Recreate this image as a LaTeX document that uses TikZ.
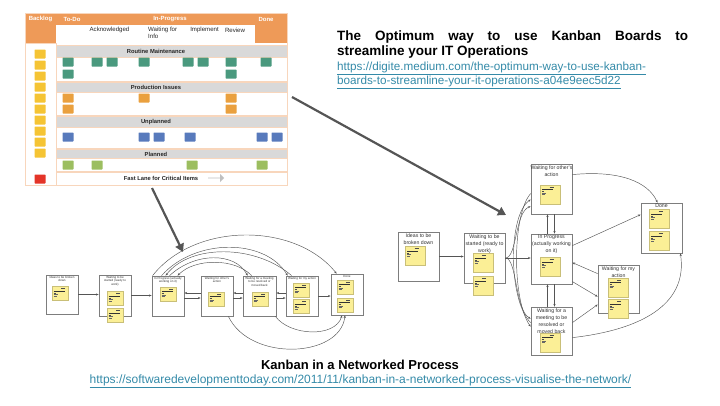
\documentclass[tikz,border=0pt]{standalone}
\usepackage{fontspec}
\setmainfont{Liberation Sans}
\usepackage{tikz}
\usepackage{xcolor}
\usetikzlibrary{positioning,arrows.meta,shapes.arrows}

\definecolor{boardorange}{RGB}{238,154,88}
\definecolor{boardline}{RGB}{248,214,188}
\definecolor{lanegray}{RGB}{217,217,217}
\definecolor{cardyellow}{RGB}{245,196,52}
\definecolor{cardgreen}{RGB}{74,153,126}
\definecolor{cardorange}{RGB}{234,160,62}
\definecolor{cardblue}{RGB}{88,122,188}
\definecolor{cardlime}{RGB}{156,190,96}
\definecolor{cardred}{RGB}{228,52,40}
\definecolor{linkblue}{RGB}{52,138,168}
\definecolor{boxgray}{RGB}{125,125,125}
\definecolor{notefill}{RGB}{251,239,150}
\definecolor{arrowgray}{RGB}{85,85,85}

\tikzset{
    board-cell/.style = {draw=boardline, fill=white, line width=0.5pt},
    lane-band/.style = {draw=boardline, fill=lanegray, line width=0.5pt},
    head-text/.style = {text=white, font=\bfseries\fontsize{6}{7}\selectfont, inner sep=0pt},
    sub-text/.style = {font=\fontsize{6.1}{7}\selectfont, inner sep=0pt, align=left, text=black!85},
    lane-text/.style = {font=\bfseries\fontsize{5.8}{7}\selectfont, inner sep=0pt, text=black!85},
    card/.style = {minimum width=11pt, minimum height=9pt, inner sep=0pt, rounded corners=0.6pt},
    flow-box/.style = {draw=boxgray, fill=white, line width=0.8pt, inner sep=0pt},
    flow-label/.style = {font=\fontsize{5.2}{7}\selectfont, align=center, inner sep=0pt, text=black!80},
    small-label/.style = {font=\fontsize{3}{3.6}\selectfont, align=center, inner sep=0pt, text=black!80},
    sticky/.style = {fill=notefill, draw=notefill!80!black, line width=0.2pt, inner sep=0pt,
        path picture={
            \draw[black!70, line width=0.2pt] ([shift={(9pt,-2pt)}]path picture bounding box.north west) -- ++(4pt,0pt);
            \draw[black!80, line width=0.6pt] ([shift={(1.5pt,-4.5pt)}]path picture bounding box.north west) -- ++(11pt,0pt);
            \draw[black!70, line width=0.3pt] ([shift={(1.5pt,-6.5pt)}]path picture bounding box.north west) -- ++(2pt,0pt);
            \draw[black!60, line width=0.2pt] ([shift={(1.5pt,-8pt)}]path picture bounding box.north west) -- ++(4pt,0pt);
            \draw[black!60, line width=0.2pt] ([shift={(1.5pt,-9.5pt)}]path picture bounding box.north west) -- ++(3pt,0pt);
        }},
    sticky-big/.style = {sticky, minimum width=20pt, minimum height=19pt},
    sticky-small/.style = {sticky, minimum width=16pt, minimum height=14pt},
    flow-arrow/.style = {-{Stealth[length=2.6pt,width=2.2pt]}, draw=arrowgray, line width=0.45pt},
    big-arrow/.style = {-{Triangle[length=8pt,width=9pt]}, draw=arrowgray, line width=2.2pt},
}

\begin{document}
\begin{tikzpicture}[x=1pt, y=-1pt]
\useasboundingbox (0,0) rectangle (720,405);

% kanban board
\fill[boardorange] (25,13) rectangle (287,25);
\fill[boardorange] (25,25) rectangle (56,43);
\fill[boardorange] (255,25) rectangle (287,43);
\draw[board-cell] (25,43) rectangle (56,185);
\draw[lane-band] (56,45) rectangle (287,57);
\draw[board-cell] (56,57) rectangle (287,81);
\draw[lane-band] (56,82) rectangle (287,92);
\draw[board-cell] (56,92) rectangle (287,115);
\draw[lane-band] (56,116) rectangle (287,127);
\draw[board-cell] (56,127) rectangle (287,148);
\draw[lane-band] (56,149) rectangle (287,158);
\draw[board-cell] (56,158) rectangle (287,171);
\draw[board-cell] (56,172) rectangle (287,185);
\draw[boardline, line width=0.6pt] (25,13) rectangle (287,185);

\node[head-text] (head-backlog) at (40.5,19) {Backlog};
\node[head-text] (head-todo) at (72,19) {To-Do};
\node[head-text] (head-progress) at (170,19) {In-Progress};
\node[head-text] (head-done) at (266,19) {Done};
\node[sub-text] (sub-ack) at (109.5,30) {Acknowledged};
\node[sub-text, anchor=north west] (sub-wait) at (148,27) {Waiting for\\Info};
\node[sub-text] (sub-impl) at (204.5,30) {Implement};
\node[sub-text] (sub-review) at (235,30) {Review};

\node[lane-text] (lane-routine) at (156,51) {Routine Maintenance};
\node[lane-text] (lane-prod) at (156,87) {Production Issues};
\node[lane-text] (lane-unplanned) at (156,122) {Unplanned};
\node[lane-text] (lane-planned) at (156,154) {Planned};
\node[lane-text] (lane-fast) at (161,178) {Fast Lane for Critical Items};
\node[single arrow, fill=black!25, minimum height=16pt, minimum width=8pt,
      single arrow head extend=1.5pt, inner sep=0pt] (fast-arrow) at (216,178) {};

% cards
\foreach \y [count=\i] in {54,65,...,153}
    \node[card, fill=cardyellow] (backlog-\i) at (40,\y) {};
\node[card, fill=cardred] (critical-1) at (40,179) {};
\foreach \x [count=\i] in {68,97,112,144,188,203,231,266}
    \node[card, fill=cardgreen] (routine-a\i) at (\x,62) {};
\foreach \x [count=\i] in {68,231}
    \node[card, fill=cardgreen] (routine-b\i) at (\x,74) {};
\foreach \x [count=\i] in {68,144,231}
    \node[card, fill=cardorange] (prod-a\i) at (\x,98) {};
\foreach \x [count=\i] in {68,231}
    \node[card, fill=cardorange] (prod-b\i) at (\x,109) {};
\foreach \x [count=\i] in {68,144,159,190,262,277}
    \node[card, fill=cardblue] (unplanned-\i) at (\x,137) {};
\foreach \x [count=\i] in {68,97,192,262}
    \node[card, fill=cardlime] (planned-\i) at (\x,165) {};

% titles
\node[anchor=north west, text width=351pt, align=justify, inner sep=0pt,
      font=\bfseries\fontsize{13.5}{14.5}\selectfont] (board-title) at (337,31)
    {The Optimum way to use Kanban Boards to\linebreak streamline your IT Operations};
\node[anchor=north west, align=left, inner sep=0pt, text=linkblue,
      font=\fontsize{11.7}{13.5}\selectfont] (board-url) at (337,62)
    {\underline{https://digite.medium.com/the-optimum-way-to-use-kanban-}\\
     \underline{boards-to-streamline-your-it-operations-a04e9eec5d22}};
\node[anchor=base, inner sep=0pt, font=\bfseries\fontsize{13}{15}\selectfont] (net-title) at (360,369)
    {Kanban in a Networked Process};
\node[anchor=base, inner sep=0pt, text=linkblue, font=\fontsize{12}{13}\selectfont] (net-url) at (360.5,383)
    {\underline{https://softwaredevelopmenttoday.com/2011/11/kanban-in-a-networked-process-visualise-the-network/}};

% line process
\node[flow-box, minimum width=32pt, minimum height=39pt] (l-ideas) at (62,294.5) {};
\node[flow-box, minimum width=32pt, minimum height=41pt] (l-ready) at (115,295.5) {};
\node[flow-box, minimum width=32pt, minimum height=40pt] (l-progress) at (168,296) {};
\node[flow-box, minimum width=32pt, minimum height=40pt] (l-other) at (217,296) {};
\node[flow-box, minimum width=33pt, minimum height=40pt] (l-meeting) at (259.5,296) {};
\node[flow-box, minimum width=32pt, minimum height=40pt] (l-myaction) at (302,296) {};
\node[flow-box, minimum width=32pt, minimum height=41pt] (l-done) at (347,294.5) {};

\node[small-label, below=1.2pt of l-ideas.north] (l-ideas-text) {Ideas to be broken\\down};
\node[small-label, below=1.2pt of l-ready.north] (l-ready-text) {Waiting to be\\started (ready to\\work)};
\node[small-label, below=1.2pt of l-progress.north] (l-progress-text) {In Progress (actually\\working on it)};
\node[small-label, below=1.2pt of l-other.north] (l-other-text) {Waiting for other's\\action};
\node[small-label, below=1.2pt of l-meeting.north] (l-meeting-text) {Waiting for a meeting\\to be resolved or\\moved back};
\node[small-label, below=1.2pt of l-myaction.north] (l-myaction-text) {Waiting for my action};
\node[small-label, below=1.2pt of l-done.north] (l-done-text) {Done};

\node[sticky-small] (l-ideas-note) at (60,293.5) {};
\node[sticky-small] (l-ready-note1) at (115,298.5) {};
\node[sticky-small] (l-ready-note2) at (115,315.5) {};
\node[sticky-small] (l-progress-note) at (168,294) {};
\node[sticky-small] (l-other-note) at (216,299) {};
\node[sticky-small] (l-meeting-note) at (260,299) {};
\node[sticky-small] (l-myaction-note1) at (301,290) {};
\node[sticky-small] (l-myaction-note2) at (301,306.5) {};
\node[sticky-small] (l-done-note1) at (345,287) {};
\node[sticky-small] (l-done-note2) at (345,305) {};

\draw[flow-arrow] (l-ideas.east) -- (l-ideas.east -| l-ready.west);
\draw[flow-arrow] (l-ready.east) -- (l-ready.east -| l-progress.west);
\draw[flow-arrow] ([yshift=3pt]l-other.west) -- ([yshift=3pt]l-progress.east);
\draw[flow-arrow] ([yshift=-2pt]l-progress.east) -- ([yshift=-2pt]l-other.west);
\draw[flow-arrow] ([yshift=3pt]l-meeting.west) -- ([yshift=3pt]l-other.east);
\draw[flow-arrow] ([yshift=-2pt]l-other.east) -- ([yshift=-2pt]l-meeting.west);
\draw[flow-arrow] ([yshift=3pt]l-myaction.west) -- ([yshift=3pt]l-meeting.east);
\draw[flow-arrow] ([yshift=-2pt]l-meeting.east) -- ([yshift=-2pt]l-myaction.west);
\draw[flow-arrow] (l-myaction.east) -- (l-myaction.east -| l-done.west);
% arcs over the top
\draw[flow-arrow] ([xshift=1pt]l-progress.north west) .. controls (195,222) and (295,222) .. ([xshift=6pt]l-done.north west);
\draw[flow-arrow] ([xshift=10pt]l-progress.north west) .. controls (195,238) and (265,238) .. ([xshift=2pt]l-myaction.north west);
\draw[flow-arrow] ([xshift=6pt]l-myaction.north west) .. controls (255,244) and (190,244) .. ([xshift=14pt]l-progress.north west);
\draw[flow-arrow] ([xshift=18pt]l-progress.north west) .. controls (195,252) and (235,252) .. ([xshift=5pt]l-meeting.north west);
\draw[flow-arrow] ([xshift=9pt]l-meeting.north west) .. controls (235,258) and (195,258) .. ([xshift=26pt]l-progress.north west);
% arcs under the bottom
\draw[flow-arrow] ([xshift=-5pt]l-other.south east) .. controls (250,362) and (340,358) .. ([xshift=-2pt]l-done.south);
\draw[flow-arrow] ([xshift=-1pt]l-meeting.south east) .. controls (290,336) and (335,338) .. ([xshift=-5pt]l-done.south);

% network process
\node[flow-box, minimum width=41pt, minimum height=49pt] (r-ideas) at (418.5,256.5) {};
\node[flow-box, minimum width=41pt, minimum height=50pt] (r-ready) at (484.5,258) {};
\node[flow-box, minimum width=41pt, minimum height=50pt] (r-other) at (551.5,189) {};
\node[flow-box, minimum width=41pt, minimum height=50pt] (r-progress) at (551.5,259) {};
\node[flow-box, minimum width=41pt, minimum height=48pt] (r-meeting) at (551.5,331) {};
\node[flow-box, minimum width=41pt, minimum height=48pt] (r-myaction) at (618.5,289) {};
\node[flow-box, minimum width=41pt, minimum height=50pt] (r-done) at (661.5,228) {};

\node[flow-label, below=1.5pt of r-ideas.north] (r-ideas-text) {Ideas to be\\broken down};
\node[flow-label, below=1.5pt of r-ready.north] (r-ready-text) {Waiting to be\\started (ready to\\work)};
\node[flow-label, below=1.5pt of r-other.north] (r-other-text) {Waiting for other's\\action};
\node[flow-label, below=1.5pt of r-progress.north] (r-progress-text) {In Progress\\(actually working\\on it)};
\node[flow-label, below=1.5pt of r-meeting.north] (r-meeting-text) {Waiting for a\\meeting to be\\resolved or\\moved back};
\node[flow-label, below=1.5pt of r-myaction.north] (r-myaction-text) {Waiting for my\\action};
\node[flow-label, below=1.5pt of r-done.north] (r-done-text) {Done};

\node[sticky-big] (r-ideas-note) at (415.5,256) {};
\node[sticky-big] (r-ready-note1) at (483,263) {};
\node[sticky-big] (r-ready-note2) at (483,286) {};
\node[sticky-big] (r-other-note) at (550.5,194.5) {};
\node[sticky-big] (r-progress-note) at (550.5,267) {};
\node[sticky-big] (r-meeting-note) at (550.5,342.5) {};
\node[sticky-big] (r-myaction-note1) at (618,287.5) {};
\node[sticky-big] (r-myaction-note2) at (618,309) {};
\node[sticky-big] (r-done-note1) at (659.5,219) {};
\node[sticky-big] (r-done-note2) at (659.5,241) {};

\draw[flow-arrow] (r-ideas.east) -- (r-ideas.east -| r-ready.west);
\draw[flow-arrow] (r-ready.east) -- (r-ready.east -| r-progress.west);
\draw[flow-arrow] (r-ready.east) .. controls (517,258) and (515,212) .. ([yshift=8pt]r-other.south west);
\draw[flow-arrow] (r-ready.east) .. controls (517,258) and (515,310) .. ([yshift=-12pt]r-meeting.north west);
\draw[flow-arrow] ([yshift=-30pt]r-other.north west) .. controls (512,215) and (512,300) .. ([yshift=-20pt]r-meeting.north west);
\draw[flow-arrow] ([yshift=-16pt]r-meeting.north west) .. controls (508,300) and (508,215) .. ([yshift=-36pt]r-other.north west);
\draw[flow-arrow] ([xshift=-4pt]r-progress.north) -- ([xshift=-4pt]r-other.south);
\draw[flow-arrow] ([xshift=3pt]r-other.south) -- ([xshift=3pt]r-progress.north);
\draw[flow-arrow] ([xshift=-4pt]r-meeting.north) -- ([xshift=-4pt]r-progress.south);
\draw[flow-arrow] ([xshift=3pt]r-progress.south) -- ([xshift=3pt]r-meeting.north);
\draw[flow-arrow] ([yshift=-11pt]r-other.north east) .. controls (620,170) and (648,182) .. ([xshift=-4pt]r-done.north);
\draw[flow-arrow] ([yshift=-12pt]r-progress.north east) -- ([yshift=-12pt]r-done.north west);
\draw[flow-arrow] ([yshift=-9pt]r-myaction.north west) -- ([yshift=-29pt]r-progress.north east);
\draw[flow-arrow] ([yshift=-48pt]r-progress.north east) -- ([yshift=-32pt]r-myaction.north west);
\draw[flow-arrow] ([yshift=-16pt]r-meeting.north east) -- ([yshift=-40pt]r-myaction.north west);
\draw[flow-arrow] ([yshift=-31pt]r-meeting.north east) .. controls (640,330) and (688,305) .. ([xshift=-2pt]r-done.south east);

% pointers from the board
\coordinate (board-out) at (152,188);
\coordinate (line-in) at (183,252);
\coordinate (board-side) at (292,97);
\coordinate (net-in) at (506,215);
\draw[big-arrow] (board-out) -- (line-in);
\draw[big-arrow] (board-side) -- (net-in);
\end{tikzpicture}
\end{document}
